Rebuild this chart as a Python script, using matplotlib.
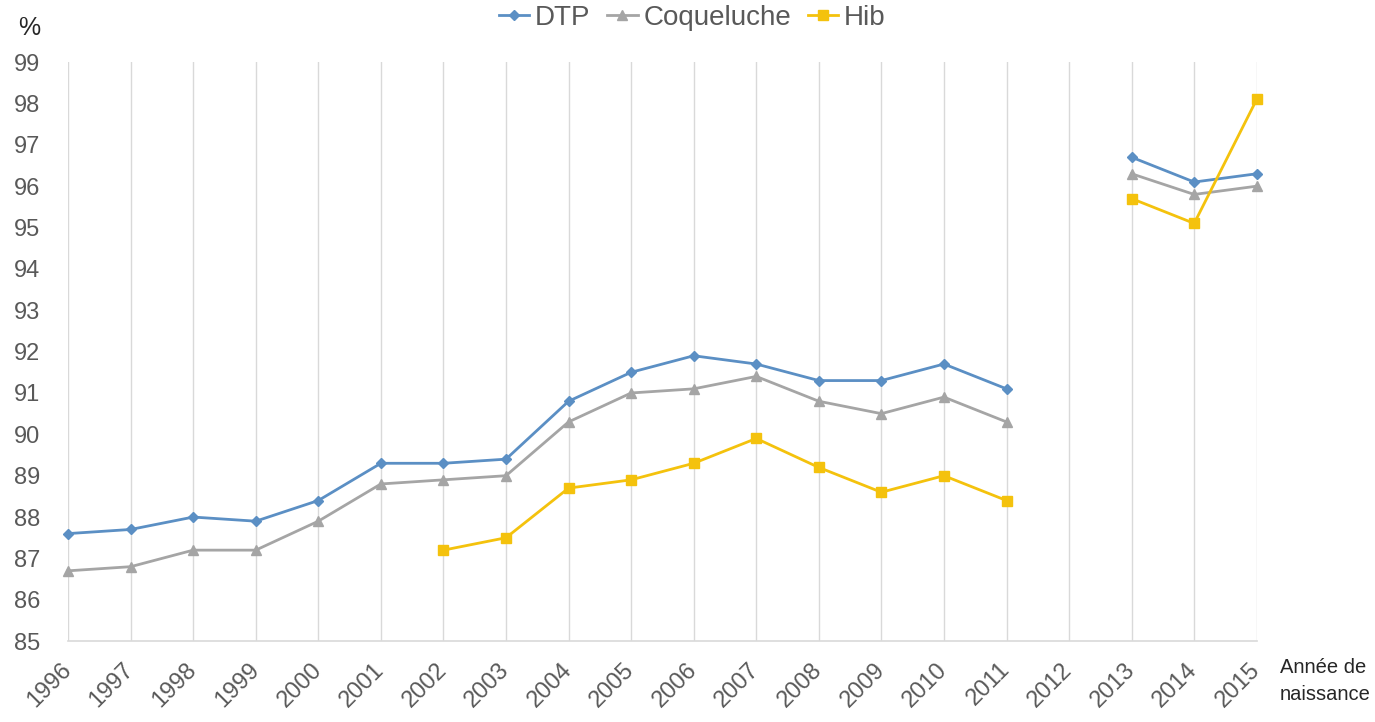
import numpy as np
import matplotlib
matplotlib.use("Agg")
import matplotlib.pyplot as plt

plt.rcParams["font.family"] = ["Liberation Sans", "DejaVu Sans"]

# ----------------------------------------------------------
# DONNÉES
# ----------------------------------------------------------
years = [str(y) for y in range(1996, 2016)]

dtp = [87.6, 87.7, 88.0, 87.9, 88.4, 89.3, 89.3, 89.4, 90.8, 91.5,
       91.9, 91.7, 91.3, 91.3, 91.7, 91.1, np.nan, 96.7, 96.1, 96.3]

coqueluche = [86.7, 86.8, 87.2, 87.2, 87.9, 88.8, 88.9, 89.0, 90.3, 91.0,
              91.1, 91.4, 90.8, 90.5, 90.9, 90.3, np.nan, 96.3, 95.8, 96.0]

hib = [np.nan, np.nan, np.nan, np.nan, np.nan, np.nan, 87.2, 87.5, 88.7, 88.9,
       89.3, 89.9, 89.2, 88.6, 89.0, 88.4, np.nan, 95.7, 95.1, 98.1]

text_col = "#595959"
grid_col = "#D9D9D9"

# ----------------------------------------------------------
# FIGURE
# ----------------------------------------------------------
fig = plt.figure(figsize=(13.75, 7.22), dpi=100)
ax = fig.add_axes([0.0495, 0.112, 0.8645, 0.802])

x = np.arange(len(years))

ax.plot(x, dtp, color="#5B8FC4", lw=2.0, marker="D", ms=5, label="DTP",
        clip_on=False, zorder=3)
ax.plot(x, coqueluche, color="#A5A5A5", lw=2.0, marker="^", ms=7,
        label="Coqueluche", clip_on=False, zorder=3)
ax.plot(x, hib, color="#F4C20D", lw=2.0, marker="s", ms=7, label="Hib",
        clip_on=False, zorder=3)

ax.set_xlim(0, len(years) - 1)
ax.set_ylim(85, 99)
ax.set_yticks(range(85, 100))
ax.set_xticks(x)
ax.set_xticklabels(years, rotation=45, ha="right", va="center",
                   rotation_mode="anchor")

ax.grid(axis="x", color=grid_col, lw=1.0)
ax.set_axisbelow(True)
for s in ["top", "right", "left"]:
    ax.spines[s].set_visible(False)
ax.spines["bottom"].set_color(grid_col)
ax.spines["bottom"].set_linewidth(1.2)

ax.tick_params(axis="both", length=0, colors=text_col, labelsize=17)
ax.tick_params(axis="y", pad=20)
ax.tick_params(axis="x", pad=18)

fig.text(0.013, 0.961, "%", fontsize=18, color="#262626", ha="left", va="center")
fig.text(0.931, 0.057, "Année de\nnaissance", fontsize=14.5, color="#262626",
         ha="left", va="center", linespacing=1.5)

ax.legend(loc="center", bbox_to_anchor=(0.525, 1.077), ncol=3, frameon=False,
          fontsize=20, labelcolor=text_col, handlelength=1.1,
          handletextpad=0.2, columnspacing=0.6)

plt.savefig("out.png", dpi=100)
plt.close(fig)
